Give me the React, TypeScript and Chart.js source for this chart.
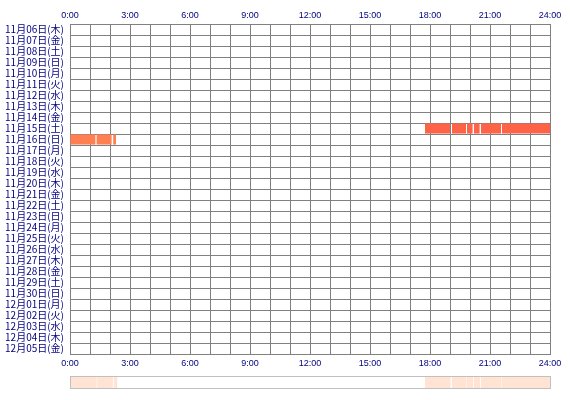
import React, { useEffect, useRef } from "react";
import { Chart, registerables } from "chart.js";

Chart.register(...registerables);

const dateLabels: string[] = [
  "11月06日(木)", "11月07日(金)", "11月08日(土)", "11月09日(日)", "11月10日(月)",
  "11月11日(火)", "11月12日(水)", "11月13日(木)", "11月14日(金)", "11月15日(土)",
  "11月16日(日)", "11月17日(月)", "11月18日(火)", "11月19日(水)", "11月20日(木)",
  "11月21日(金)", "11月22日(土)", "11月23日(日)", "11月24日(月)", "11月25日(火)",
  "11月26日(水)", "11月27日(木)", "11月28日(金)", "11月29日(土)", "11月30日(日)",
  "12月01日(月)", "12月02日(火)", "12月03日(水)", "12月04日(木)", "12月05日(金)",
];

// Activity segments [start hour, end hour] per day
const nov15Segments: [number, number][] = [
  [17.75, 19.0], [19.1, 19.8], [19.85, 20.13], [20.2, 20.48], [20.55, 21.55], [21.6, 24.0],
];
const nov16Segments: [number, number][] = [
  [0.0, 1.27], [1.33, 2.08], [2.16, 2.3],
];

const segmentsByDate: Record<string, [number, number][]> = {
  "11月15日(土)": nov15Segments,
  "11月16日(日)": nov16Segments,
};

const rowColors: Record<string, string> = {
  "11月15日(土)": "#FF6347",
  "11月16日(日)": "#FF7F50",
};

const hourTicks: number[] = [0, 3, 6, 9, 12, 15, 18, 21, 24];

const GRID = "#808080";
const NAVY = "#000080";

export default function App() {
  const mainRef = useRef<HTMLCanvasElement>(null);
  const stripRef = useRef<HTMLCanvasElement>(null);

  useEffect(() => {
    const maxSegs = Math.max(...Object.values(segmentsByDate).map((s) => s.length));
    const datasets: any[] = [];
    for (let k = 0; k < maxSegs; k++) {
      datasets.push({
        label: "seg" + k,
        data: dateLabels.map((d) => {
          const s = segmentsByDate[d];
          return s && s[k] ? s[k] : null;
        }),
        backgroundColor: dateLabels.map((d) => rowColors[d] || "#FF6347"),
        borderWidth: 0,
        grouped: false,
        barPercentage: 1,
        categoryPercentage: 0.92,
        xAxisID: "x",
      });
    }

    const tickFont = { family: "'Liberation Sans', Arial, sans-serif", size: 9 };
    const fmt = (v: any) => (hourTicks.includes(Number(v)) ? `${v}:00` : "");

    const main = new Chart(mainRef.current!, {
      type: "bar",
      data: { labels: dateLabels, datasets },
      options: {
        indexAxis: "y",
        animation: false,
        responsive: false,
        layout: { padding: { left: 0, right: 20, top: 0, bottom: 0 } },
        plugins: { legend: { display: false }, tooltip: { enabled: false }, title: { display: false } },
        scales: {
          x: {
            type: "linear",
            position: "bottom",
            min: 0,
            max: 24,
            ticks: { stepSize: 1, autoSkip: false, maxRotation: 0, color: NAVY, font: tickFont, padding: 4, callback: fmt },
            grid: { color: GRID, lineWidth: 1, drawTicks: false },
            border: { color: GRID },
            afterFit: (s: any) => { s.height = 46; },
          },
          x2: {
            type: "linear",
            position: "top",
            min: 0,
            max: 24,
            ticks: { stepSize: 3, autoSkip: false, maxRotation: 0, color: NAVY, font: tickFont, padding: 3, callback: (v: any) => `${v}:00` },
            grid: { display: false, drawTicks: false },
            border: { display: false },
            afterFit: (s: any) => { s.height = 24; },
          },
          y: {
            type: "category",
            offset: true,
            ticks: { color: NAVY, font: { family: "'Noto Sans CJK JP', sans-serif", size: 10 }, padding: 6, autoSkip: false },
            grid: { color: GRID, lineWidth: 1, drawTicks: false, offset: true },
            border: { color: GRID },
            afterFit: (s: any) => { s.width = 70; },
          },
        },
      } as any,
    });

    // Summary strip: all segments merged onto one row
    const allSegs: [number, number][] = dateLabels.flatMap((d) => segmentsByDate[d] || []);
    const stripBorder = {
      id: "stripBorder",
      afterDraw(chart: any) {
        const ctx = chart.ctx;
        ctx.save();
        ctx.strokeStyle = "#C0C0C0";
        ctx.lineWidth = 1;
        ctx.strokeRect(0.5, 0.5, chart.width - 1, chart.height - 1);
        ctx.restore();
      },
    };
    const strip = new Chart(stripRef.current!, {
      type: "bar",
      data: {
        labels: ["all"],
        datasets: allSegs.map((s, i) => ({
          label: "s" + i,
          data: [s],
          backgroundColor: "#FFE4D4",
          borderWidth: 0,
          grouped: false,
          barPercentage: 1,
          categoryPercentage: 1,
        })),
      },
      options: {
        indexAxis: "y",
        animation: false,
        responsive: false,
        layout: { padding: { left: 1, right: 1, top: 1, bottom: 1 } },
        plugins: { legend: { display: false }, tooltip: { enabled: false } },
        scales: {
          x: { type: "linear", min: 0, max: 24, display: false },
          y: { display: false },
        },
      } as any,
      plugins: [stripBorder],
    });

    return () => {
      main.destroy();
      strip.destroy();
    };
  }, []);

  return (
    <div style={{ position: "fixed", left: 0, top: 0, width: 570, height: 400, background: "#fff" }}>
      <canvas ref={mainRef} width={570} height={400} style={{ position: "absolute", left: 0, top: 0 }} />
      <canvas ref={stripRef} width={481} height={13} style={{ position: "absolute", left: 70, top: 376 }} />
    </div>
  );
}
